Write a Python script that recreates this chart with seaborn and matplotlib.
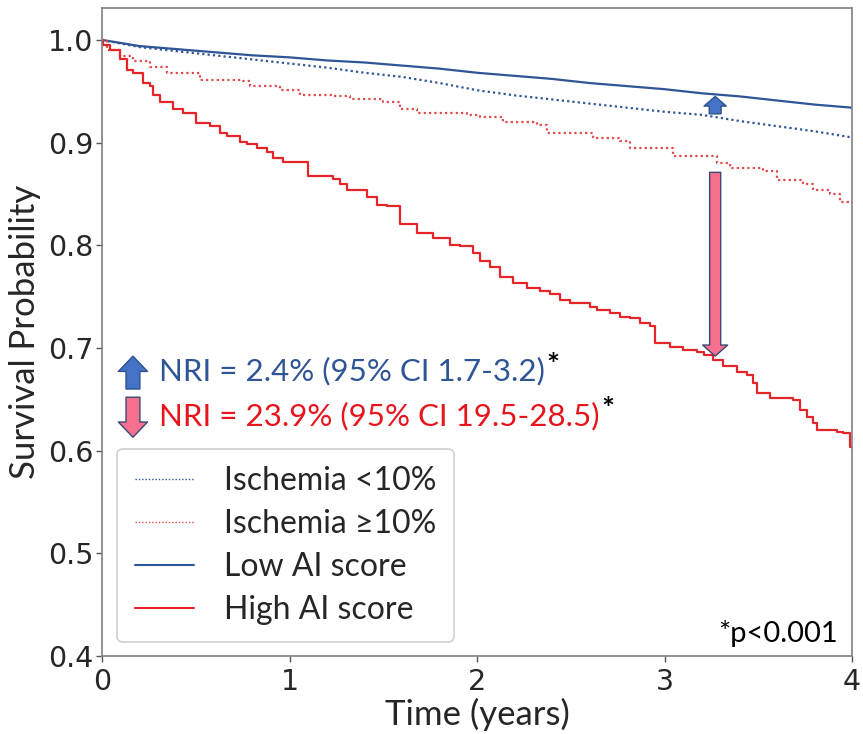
import pandas as pd
import matplotlib.pyplot as plt
import seaborn as sns
from matplotlib.lines import Line2D

# === DATA ===
LABELS = ['Ischemia <10%', 'Ischemia \u226510%', 'Low AI score', 'High AI score']

# Low AI score (solid blue) and Ischemia <10% (dotted blue)
T_BLUE = [0, 0.2, 0.4, 0.6, 0.8, 1.0, 1.2, 1.4, 1.6, 1.8, 2.0,
          2.2, 2.4, 2.6, 2.8, 3.0, 3.2, 3.4, 3.6, 3.8, 4.0]
S_LOW_AI = [1.0, 0.994, 0.991, 0.988, 0.985, 0.983, 0.980, 0.978, 0.975, 0.972, 0.968,
            0.965, 0.962, 0.958, 0.955, 0.952, 0.948, 0.945, 0.941, 0.937, 0.934]
S_ISCH_LOW = [1.0, 0.993, 0.989, 0.985, 0.981, 0.977, 0.973, 0.968, 0.964, 0.958, 0.951,
              0.946, 0.942, 0.938, 0.934, 0.930, 0.927, 0.921, 0.916, 0.911, 0.905]

# Ischemia >=10% (dotted red), Kaplan-Meier steps
T_ISCH_HIGH = [0, 0.025, 0.096, 0.167, 0.256, 0.345, 0.523, 0.754, 0.789, 0.949,
               1.056, 1.234, 1.323, 1.5, 1.589, 1.678, 1.945, 2.016, 2.141, 2.318,
               2.372, 2.621, 2.763, 2.816, 3.047, 3.278, 3.349, 3.527, 3.598, 3.74,
               3.794, 3.883, 3.936, 4.0]
S_ISCH_HIGH = [1.0, 0.990, 0.984, 0.979, 0.974, 0.968, 0.961, 0.960, 0.955, 0.951,
               0.946, 0.945, 0.942, 0.940, 0.933, 0.929, 0.927, 0.925, 0.920, 0.917,
               0.909, 0.904, 0.902, 0.895, 0.887, 0.880, 0.875, 0.872, 0.864, 0.860,
               0.854, 0.850, 0.842, 0.842]

# High AI score (solid red), Kaplan-Meier steps
T_HIGH_AI = [0, 0.007, 0.043, 0.096, 0.132, 0.167, 0.22, 0.256, 0.274, 0.309, 0.38,
             0.434, 0.5, 0.576, 0.629, 0.665, 0.736, 0.772, 0.825, 0.878, 0.914,
             0.967, 1.1, 1.234, 1.269, 1.305, 1.412, 1.465, 1.518, 1.589, 1.678,
             1.767, 1.856, 1.909, 1.98, 2.016, 2.069, 2.123, 2.194, 2.265, 2.336,
             2.389, 2.443, 2.496, 2.603, 2.638, 2.709, 2.763, 2.816, 2.869, 2.923,
             2.949, 3.029, 3.1, 3.172, 3.208, 3.26, 3.314, 3.385, 3.438, 3.474,
             3.492, 3.563, 3.687, 3.723, 3.758, 3.794, 3.812, 3.918, 3.954, 3.989, 4.0]
S_HIGH_AI = [1.0, 0.995, 0.990, 0.981, 0.971, 0.968, 0.958, 0.955, 0.946, 0.940, 0.933,
             0.929, 0.919, 0.916, 0.909, 0.906, 0.901, 0.899, 0.895, 0.891, 0.885,
             0.881, 0.867, 0.865, 0.860, 0.854, 0.847, 0.839, 0.838, 0.821, 0.812,
             0.807, 0.800, 0.799, 0.792, 0.785, 0.779, 0.769, 0.763, 0.758, 0.755,
             0.753, 0.747, 0.744, 0.740, 0.737, 0.734, 0.730, 0.729, 0.724, 0.721,
             0.705, 0.701, 0.698, 0.696, 0.693, 0.688, 0.682, 0.677, 0.674, 0.666,
             0.656, 0.651, 0.649, 0.640, 0.633, 0.627, 0.620, 0.618, 0.617, 0.604, 0.604]

NRI_LOW = 'NRI = 2.4% (95% CI 1.7-3.2)'
NRI_HIGH = 'NRI = 23.9% (95% CI 19.5-28.5)'
P_NOTE = '*p<0.001'

BLUE = '#2F5597'
RED = '#E5252A'
RED_DOT = '#E04A4A'
TXT_BLUE = '#2F5597'
TXT_RED = '#E8141C'
PINK = '#F7708F'

blue_df = pd.concat([
    pd.DataFrame({'time': T_BLUE, 'surv': S_ISCH_LOW, 'group': LABELS[0]}),
    pd.DataFrame({'time': T_BLUE, 'surv': S_LOW_AI, 'group': LABELS[2]}),
])
red_df = pd.concat([
    pd.DataFrame({'time': T_ISCH_HIGH, 'surv': S_ISCH_HIGH, 'group': LABELS[1]}),
    pd.DataFrame({'time': T_HIGH_AI, 'surv': S_HIGH_AI, 'group': LABELS[3]}),
])

sns.set_style('white')
plt.rcParams['font.family'] = ['Lato', 'DejaVu Sans']

palette = {LABELS[0]: BLUE, LABELS[1]: RED_DOT, LABELS[2]: BLUE, LABELS[3]: RED}
dashes = {LABELS[0]: (1, 1.4), LABELS[1]: (1, 1.4), LABELS[2]: '', LABELS[3]: ''}

fig = plt.figure(figsize=(8.63, 7.34), dpi=100)
ax = fig.add_axes([0.1182, 0.1063, 0.8691, 0.8827])

sns.lineplot(data=blue_df, x='time', y='surv', hue='group', style='group',
             palette=palette, dashes=dashes, estimator=None, legend=False,
             linewidth=1.6, ax=ax)
sns.lineplot(data=red_df, x='time', y='surv', hue='group', style='group',
             palette=palette, dashes=dashes, estimator=None, legend=False,
             linewidth=1.6, drawstyle='steps-post', ax=ax)

ax.set_xlim(0, 4)
ax.set_ylim(0.4, 1.031)
ax.set_xticks([0, 1, 2, 3, 4])
ax.set_yticks([0.4, 0.5, 0.6, 0.7, 0.8, 0.9, 1.0])
ax.set_yticklabels([f'{v:.1f}' for v in [0.4, 0.5, 0.6, 0.7, 0.8, 0.9, 1.0]])
for lab in ax.get_xticklabels() + ax.get_yticklabels():
    lab.set_fontfamily('DejaVu Sans')
    lab.set_fontsize(20.5)
ax.tick_params(axis='both', which='major', length=4, width=1, color='#555555',
               direction='out', bottom=True, left=True, pad=2)
ax.tick_params(axis='x', pad=5)
for sp in ax.spines.values():
    sp.set_color('#808080')
    sp.set_linewidth(1.2)

ax.set_xlabel('Time (years)', fontsize=25, labelpad=1)
ax.set_ylabel('Survival Probability', fontsize=25, labelpad=5)

# arrows showing the reclassification
ax.annotate('', xy=(3.27, 0.945), xytext=(3.27, 0.928),
            arrowprops=dict(arrowstyle='simple,head_length=0.7,head_width=1.6,tail_width=0.85',
                            fc='#4472C4', ec='#2F528F', lw=1, mutation_scale=10,
                            shrinkA=0, shrinkB=0))
ax.annotate('', xy=(3.27, 0.692), xytext=(3.27, 0.871),
            arrowprops=dict(arrowstyle='simple,head_length=0.8,head_width=1.8,tail_width=0.8',
                            fc=PINK, ec='#3D4870', lw=1, mutation_scale=10,
                            shrinkA=0, shrinkB=0))

# NRI texts with small arrow icons
ax.annotate('', xy=(0.165, 0.692), xytext=(0.165, 0.660),
            arrowprops=dict(arrowstyle='simple,head_length=1.1,head_width=2.1,tail_width=1.0',
                            fc='#4472C4', ec='#2F528F', lw=1, mutation_scale=10,
                            shrinkA=0, shrinkB=0))
ax.annotate('', xy=(0.165, 0.613), xytext=(0.165, 0.652),
            arrowprops=dict(arrowstyle='simple,head_length=1.1,head_width=2.1,tail_width=1.0',
                            fc=PINK, ec='#3D4870', lw=1, mutation_scale=10,
                            shrinkA=0, shrinkB=0))

t1 = ax.text(0.305, 0.677, NRI_LOW, color=TXT_BLUE, fontsize=22.5, va='center', ha='left')
ax.annotate('*', xy=(1, 0.5), xycoords=t1, xytext=(1, 4), textcoords='offset points',
            fontsize=22, fontweight='bold', color='black', va='center', ha='left')
t2 = ax.text(0.305, 0.634, NRI_HIGH, color=TXT_RED, fontsize=22.5, va='center', ha='left')
ax.annotate('*', xy=(1, 0.5), xycoords=t2, xytext=(1, 4), textcoords='offset points',
            fontsize=22, fontweight='bold', color='black', va='center', ha='left')

ax.text(3.925, 0.422, P_NOTE, fontsize=21, color='black', va='center', ha='right')

handles = [
    Line2D([], [], color=BLUE, lw=1.0, dashes=(1, 1.4)),
    Line2D([], [], color=RED_DOT, lw=1.0, dashes=(1, 1.4)),
    Line2D([], [], color=BLUE, lw=1.5),
    Line2D([], [], color=RED, lw=1.5),
]
leg = ax.legend(handles, LABELS, loc='lower left', bbox_to_anchor=(0.02, 0.021),
                fontsize=23, handlelength=1.85, handletextpad=0.95, labelspacing=0.4,
                borderpad=0.55, frameon=True, fancybox=True, framealpha=1,
                edgecolor='#D0D0D0', borderaxespad=0)
leg.get_frame().set_linewidth(1.2)

fig.savefig('out.png', dpi=100)
